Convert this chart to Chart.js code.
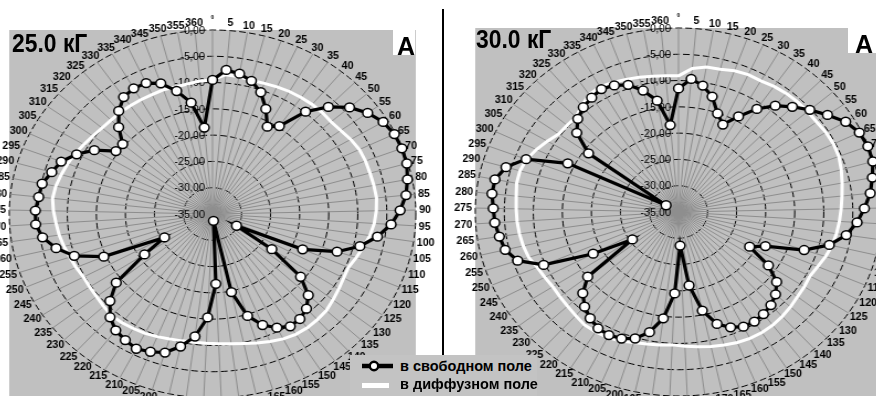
<!DOCTYPE html>
<html>
<head>
<meta charset="utf-8">
<script src="https://cdn.jsdelivr.net/npm/chart.js@4/dist/chart.umd.min.js"></script>
<style>
  html, body { margin: 0; padding: 0; background: #fff; }
  body { width: 876px; height: 396px; overflow: hidden; position: relative;
         font-family: "Liberation Sans", Arial, sans-serif; }
  .plot { position: absolute; width: 448px; height: 448px;
          transform: scaleX(1.105); transform-origin: 0 0; }
  .title { position: absolute; font-weight: bold; font-size: 26px; line-height: 26px;
           color: #000; white-space: nowrap; transform: scaleX(0.88); transform-origin: 0 0; }
  .clip { position: absolute; overflow: hidden; }
  .mark { position: absolute; background: #fff; overflow: hidden; }
  .mark span { position: absolute; font-weight: bold; font-size: 25px; line-height: 25px; color: #000; }
  .sep { position: absolute; left: 442px; top: 9px; width: 1.5px; height: 346px; background: #000; }
  .legend { position: absolute; left: 350px; top: 355px; width: 187px; height: 45px; background: #c3c3c3; }
  .legend .txt { position: absolute; left: 50px; font-weight: bold; font-size: 14.5px; line-height: 16px;
                 color: #000; white-space: nowrap; }
  .legend svg { position: absolute; left: 0; top: 0; }
</style>
</head>
<body>
<div class="plot" id="wrap25" style="left:-35.5px; top:-10.5px;"><canvas id="c25" width="448" height="448"></canvas></div>
<div class="plot" id="wrap30" style="left:430.5px; top:-12px;"><canvas id="c30" width="448" height="448"></canvas></div>

<div class="title" style="left:12px; top:30px;">25.0 кГ</div>
<div class="clip" style="left:474.5px; top:27.5px; width:110px; height:30px;">
  <div class="title" style="left:1px; top:-1.5px;">30.0 кГ</div>
</div>

<div class="mark" style="left:392.5px; top:28px; width:22.5px; height:27px;"><span style="right:0; top:5.8px;">А</span></div>
<div class="mark" style="left:848px; top:27px; width:28px; height:26px;"><span style="right:3px; top:4.8px;">А</span></div>

<div class="sep"></div>

<div class="legend">
  <svg width="187" height="45">
    <line x1="12" y1="11" x2="43" y2="11" stroke="#000" stroke-width="4.5"/>
    <circle cx="24" cy="11" r="4.2" fill="#fff" stroke="#000" stroke-width="2.4"/>
    <line x1="12" y1="30.5" x2="39" y2="30.5" stroke="#fff" stroke-width="5"/>
  </svg>
  <div class="txt" style="top:3px;">в свободном поле</div>
  <div class="txt" style="top:21px;">в диффузном поле</div>
</div>

<script>
// Angle categories (degrees), one spoke each
const angleLabels = [0, 5, 10, 15, 20, 25, 30, 35, 40, 45, 50, 55, 60, 65, 70, 75, 80, 85, 90,
  95, 100, 105, 110, 115, 120, 125, 130, 135, 140, 145, 150, 155, 160, 165, 170, 175, 180,
  185, 190, 195, 200, 205, 210, 215, 220, 225, 230, 235, 240, 245, 250, 255, 260, 265, 270,
  275, 280, 285, 290, 295, 300, 305, 310, 315, 320, 325, 330, 335, 340, 345, 350, 355, 360];

// Ring values (dB) labelled along the 0° spoke
const ringValues = [0, -5, -10, -15, -20, -25, -30, -35];

// 25.0 кГ
const free25 = [-9.5, -7.5, -7.9, -8.8, -10.4, -13.0, -15.9, -14.7, -9.8, -6.5,
  -3.9, -2.1, -0.8, -0.2, -0.1, -0.2, -0.8, -1.5, -2.7, -4.2,
  -6.3, -8.9, -12.4, -18.1, -30.3, -22.8, -15.7, -12.4, -10.8, -10.0,
  -9.8, -10.7, -12.2, -14.7, -19.8, -33.7, -21.7, -15.3, -11.5, -9.2,
  -7.4, -6.7, -6.2, -6.7, -7.3, -8.6, -10.8, -13.9, -21.0, -25.6,
  -14.6, -9.9, -7.3, -5.4, -4.5, -4.5, -4.9, -5.1, -6.2, -7.1,
  -9.0, -11.3, -14.5, -14.6, -11.9, -9.6, -8.0, -7.5, -7.6, -8.6,
  -10.8, -13.5, -18.5];
const diffuse25 = [-9.5, -8.4, -8.5, -8.7, -8.6, -8.4, -8.2, -8.1, -8.0, -8.0,
  -8.1, -7.8, -7.3, -6.9, -6.8, -6.8, -6.7, -6.6, -6.8, -7.1,
  -7.6, -8.3, -8.9, -9.5, -9.35, -9.0, -8.6, -8.15, -8.0, -7.9,
  -8.0, -8.3, -8.8, -9.3, -9.8, -10.1, -10.3, -10.4, -10.4, -10.3,
  -10.1, -9.8, -9.5, -9.3, -9.1, -9.0, -9.3, -9.6, -9.7, -9.75,
  -9.4, -9.1, -8.7, -8.3, -8.0, -7.6, -7.3, -7.5, -7.9, -8.3,
  -8.7, -9.2, -9.6, -9.9, -10.0, -10.0, -10.0, -10.0, -10.0, -9.9,
  -10.0, -9.9, -9.6];

// 30.0 кГ
const free30 = [-11.5, -9.6, -10.6, -12.3, -15.1, -16.7, -14.1, -11.2, -8.8, -7.0,
  -5.2, -3.4, -1.5, -0.4, -0.1, -0.2, -1.0, -1.8, -3.0, -4.2,
  -5.8, -8.3, -12.2, -18.7, -21.1, -16.5, -13.5, -12.1, -11.2, -10.7,
  -10.4, -10.5, -11.3, -12.7, -15.8, -20.9, -28.6, -19.5, -14.6, -11.6,
  -9.8, -9.0, -8.7, -8.9, -9.7, -10.8, -12.4, -15.1, -25.5, -18.3,
  -9.7, -5.8, -4.3, -3.8, -3.3, -3.1, -2.7, -2.8, -4.1, -6.9,
  -13.8, -32.5, -15.9, -11.9, -10.2, -9.2, -8.6, -8.1, -8.5, -9.3,
  -11.1, -13.5, -18.4];
const diffuse30 = [-9.1, -7.6, -7.0, -6.9, -6.45, -6.25, -6.3, -6.0, -5.8, -5.7,
  -5.7, -5.7, -5.45, -5.35, -5.45, -5.85, -6.3, -6.7, -7.0, -7.25,
  -7.5, -7.8, -8.3, -8.9, -9.3, -9.1, -8.95, -8.6, -8.3, -8.05,
  -7.95, -8.0, -8.2, -8.5, -8.8, -9.15, -9.45, -9.7, -9.5, -9.3,
  -9.0, -8.5, -8.2, -8.1, -8.1, -8.5, -8.8, -9.0, -9.1, -8.85,
  -8.5, -7.8, -7.5, -7.3, -7.15, -7.05, -6.9, -6.6, -6.6, -7.0,
  -7.8, -8.7, -9.6, -9.7, -9.75, -8.8, -7.9, -7.6, -7.9, -8.2,
  -8.5, -8.8, -9.0];

const FACE = '"Liberation Sans", Arial, sans-serif';
const SQUEEZE = 0.84;   // condensed look for the small labels

// Draw text squeezed horizontally around its own anchor
function squeezedText(ctx, text, x, y) {
  ctx.save();
  ctx.translate(x, y);
  ctx.scale(SQUEEZE, 1);
  ctx.fillText(text, 0, 0);
  ctx.restore();
}

// Gray plot area, ring values on the 0° spoke, angle labels round the rim
const polarDecor = {
  id: 'polarDecor',
  beforeDraw(chart) {
    const { ctx, chartArea: a } = chart;
    ctx.save();
    ctx.fillStyle = '#c0c0c0';
    ctx.fillRect(a.left, a.top, a.right - a.left, a.bottom - a.top);
    ctx.restore();
  },
  beforeDatasetsDraw(chart) {
    const s = chart.scales.r, ctx = chart.ctx;
    ctx.save();
    ctx.font = '11.5px ' + FACE;
    ctx.fillStyle = '#000';
    ctx.textAlign = 'right';
    ctx.textBaseline = 'middle';
    ringValues.forEach(v => {
      const d = s.getDistanceFromCenterForValue(v);
      squeezedText(ctx, v.toFixed(2).replace('.', ','), s.xCenter - 7, s.yCenter - d + 0.5);
    });
    ctx.restore();
  },
  afterDraw(chart) {
    const s = chart.scales.r, ctx = chart.ctx;
    ctx.save();
    ctx.fillStyle = '#000';
    ctx.textAlign = 'center';
    ctx.textBaseline = 'middle';
    chart.data.labels.forEach((lab, i) => {
      const th = s.getIndexAngle(i);
      if (i === 0) {
        ctx.font = 'bold 6px ' + FACE;
        const p0 = s.getPointPosition(i, s.drawingArea + 13);
        squeezedText(ctx, lab, p0.x, p0.y);
        return;
      }
      ctx.font = 'bold 11.5px ' + FACE;
      const w = ctx.measureText(lab).width * SQUEEZE, h = 9;
      const p = s.getPointPosition(i, s.drawingArea + 3);
      squeezedText(ctx, lab, p.x + Math.sin(th) * w / 2, p.y - Math.cos(th) * h / 2);
    });
    ctx.restore();
  }
};

function makePolar(canvasId, free, diffuse) {
  return new Chart(document.getElementById(canvasId), {
    type: 'radar',
    data: {
      labels: angleLabels.map(String),
      datasets: [
        { label: 'в свободном поле', data: free, borderColor: '#000', borderWidth: 3.2,
          pointRadius: 4.4, pointBorderWidth: 1.5, pointBackgroundColor: '#fff',
          pointBorderColor: '#000', fill: false, tension: 0, clip: false },
        { label: 'в диффузном поле', data: diffuse, borderColor: '#fff', borderWidth: 3,
          pointRadius: 0, fill: false, tension: 0, clip: false }
      ]
    },
    options: {
      responsive: false,
      animation: false,
      devicePixelRatio: 1,
      layout: { padding: 40 },
      events: [],
      plugins: { legend: { display: false }, tooltip: { enabled: false } },
      scales: {
        r: {
          min: -35, max: 0, startAngle: 0,
          ticks: { display: false, stepSize: 5 },
          pointLabels: { display: false },
          grid: { color: '#000', lineWidth: 1, circular: true },
          border: { dash: [6, 3] },
          angleLines: { color: '#8e8e8e', lineWidth: 1 }
        }
      }
    },
    plugins: [polarDecor]
  });
}

makePolar('c25', free25, diffuse25);
makePolar('c30', free30, diffuse30);
</script>
</body>
</html>
